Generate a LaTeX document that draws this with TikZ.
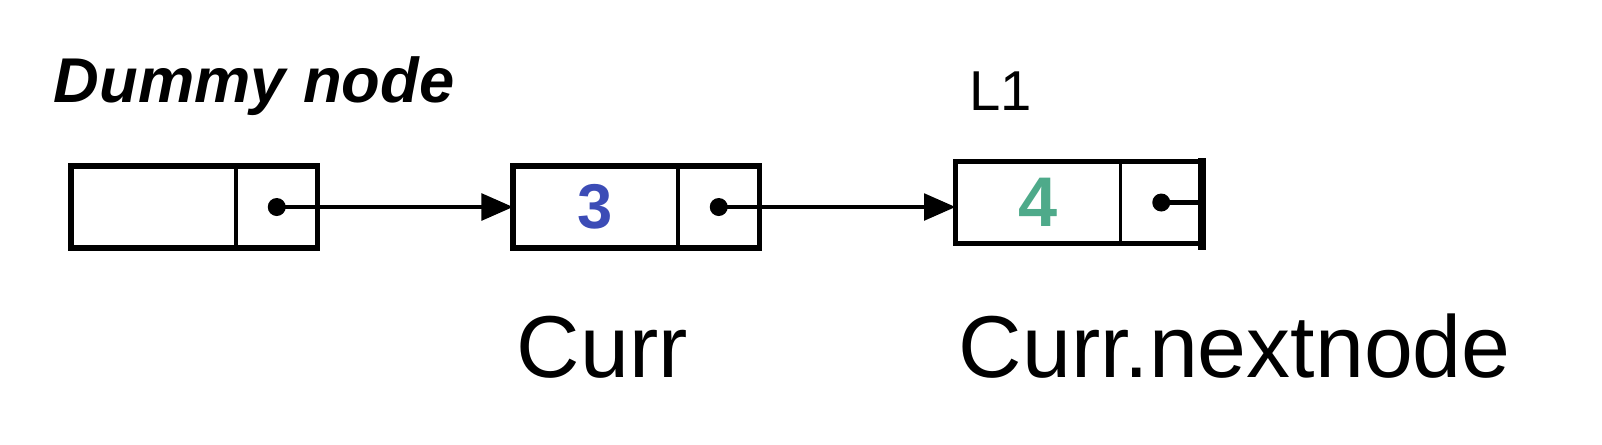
\documentclass[tikz,border=0pt]{standalone}
\usepackage{fontspec}
\usepackage{xcolor}
\usepackage{tikz}
\setmainfont{Liberation Sans}
\definecolor{listblue}{RGB}{60, 76, 182}
\definecolor{listgreen}{RGB}{78, 170, 138}
\usetikzlibrary{arrows.meta,positioning}

\begin{document}
\begin{tikzpicture}[
    cell/.style={draw, line width=0.5pt, minimum height=0.8cm, inner sep=0pt},
    datacell/.style={cell, minimum width=1.63cm},
    ptrcell/.style={cell, minimum width=0.8cm},
    boxline/.style={line width=1.6pt},
    link/.style={-{Triangle[length=9pt,width=7.5pt]}, line width=1.3pt},
    dot/.style={circle, fill, inner sep=0pt, minimum size=0.18cm}
]
    \useasboundingbox (0,0) rectangle (16.02,-4.44);
    % the three list nodes
    \node[datacell] (dummy) at (1.535,-2.07) {};
    \node[ptrcell, right=0pt of dummy] (dummyptr) {};
    \node[datacell] (curr) at (5.955,-2.07) {\fontsize{18}{20}\selectfont\bfseries\color{listblue}3};
    \node[ptrcell, right=0pt of curr] (currptr) {};
    \node[datacell] (next) at (10.38,-2.025) {\fontsize{20}{22}\selectfont\bfseries\color{listgreen}4};
    \node[ptrcell, right=0pt of next] (nextptr) {};
    \draw[boxline] (dummy.north west) rectangle (dummyptr.south east);
    \draw[boxline] (curr.north west) rectangle (currptr.south east);
    \draw[boxline] (next.north west) rectangle (nextptr.south east);
    % pointers
    \node[dot] (dummydot) at (dummyptr.center) {};
    \node[dot] (currdot) at (currptr.center) {};
    \node[dot] (nextdot) at (nextptr.center) {};
    \draw[link] (dummydot.center) -- (curr.west);
    \draw[link] (currdot.center) -- (currdot.center -| next.west);
    \draw[line width=1.3pt] (nextdot.center) -- (nextdot.center -| nextptr.east);
    \draw[line width=2.4pt] ([yshift=1pt]nextptr.north east) -- ([yshift=-2pt]nextptr.south east);
    % labels
    \node[anchor=base west, inner sep=0pt] (dummylabel) at (0.53,-1.02) {\fontsize{18}{20}\selectfont\bfseries\itshape Dummy node};
    \node[anchor=base west, inner sep=0pt] (listlabel) at (9.69,-1.10) {\fontsize{16}{18}\selectfont L1};
    \node[anchor=base west, inner sep=0pt] (currlabel) at (5.16,-3.77) {\fontsize{25}{28}\selectfont Curr};
    \node[anchor=base west, inner sep=0pt] (nextlabel) at (9.58,-3.77) {\fontsize{25}{28}\selectfont Curr.nextnode};
\end{tikzpicture}
\end{document}
